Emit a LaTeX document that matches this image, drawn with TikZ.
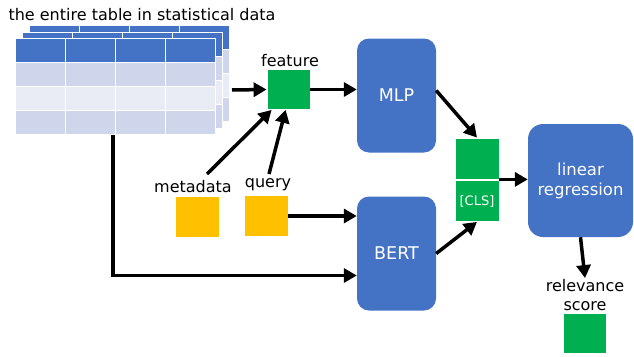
\documentclass[tikz,border=0pt]{standalone}
\usepackage{fontspec}
\setmainfont{DejaVu Sans}
\usetikzlibrary{arrows.meta}
\definecolor{boxblue}{HTML}{4472C4}
\definecolor{boxgreen}{HTML}{00B050}
\definecolor{boxorange}{HTML}{FFC000}
\definecolor{rowdark}{HTML}{CFD5EA}
\definecolor{rowlight}{HTML}{E9EBF5}

\begin{document}
\begin{tikzpicture}[x=1pt, y=-1pt,
    model/.style={fill=boxblue, rounded corners=12pt, text=white, align=center,
      inner sep=0pt, minimum width=79pt, minimum height=114pt,
      font=\fontsize{17.5}{21}\selectfont},
    vec/.style={fill=boxgreen, draw=white, line width=0.8pt, inner sep=0pt,
      minimum width=44pt, minimum height=41pt, text=white},
    meta/.style={fill=boxorange, inner sep=0pt, minimum width=43pt, minimum height=40pt},
    lbl/.style={inner sep=1pt, align=center, font=\fontsize{16}{19}\selectfont},
    link/.style={line width=3.5pt, -{Triangle[length=13pt,width=14pt]}}]
    \useasboundingbox (0,0) rectangle (634,356);

    \foreach \dx/\dy in {14/-13, 7/-6, 0/0} {
        \begin{scope}[shift={(\dx,\dy)}]
            \fill[boxblue] (15,38) rectangle (215,62);
            \fill[rowdark] (15,62) rectangle (215,86);
            \fill[rowlight] (15,86) rectangle (215,110);
            \fill[rowdark] (15,110) rectangle (215,134);
            \foreach \c in {65,115,165}
                \draw[white, line width=0.8pt] (\c,38) -- (\c,134);
            \foreach \r in {62,86,110}
                \draw[white, line width=0.8pt] (15,\r) -- (215,\r);
            \draw[white, line width=0.8pt] (15,38) rectangle (215,134);
        \end{scope}
    }

    \node[lbl] (title) at (142,15) {the entire table in statistical data};
    \coordinate (tabout) at (232,90);
    \coordinate (tabdown) at (113,135);

    \node[vec, minimum width=43pt, minimum height=40pt] (feat) at (288.5,89.5) {};
    \node[lbl] (featlbl) at (290,61) {feature};

    \node[meta] (metadata) at (197.5,217) {};
    \node[lbl] (metalbl) at (193,187) {metadata};
    \coordinate (metatip) at (207,174);
    \node[meta] (query) at (266.5,216) {};
    \node[lbl] (querylbl) at (268,185) {query};
    \coordinate (querytip) at (269,174);

    \node[model] (mlp) at (396.5,95.5) {MLP};
    \node[model] (bert) at (396.5,253.5) {BERT};

    \node[vec] (pool) at (477,158.5) {};
    \node[vec, font=\fontsize{13}{15}\selectfont] (cls) at (477,201) {[CLS]};

    \node[model, minimum width=105pt, minimum height=113pt, rounded corners=15pt,
      font=\fontsize{16.5}{20}\selectfont] (linreg) at (580.5,180.5) {linear\\regression};
    \node[lbl] (score) at (585,295) {relevance\\score};
    \node[vec, minimum width=43pt, minimum height=40pt] (out) at (584.5,333.5) {};

    \draw[link] (tabout) -- (feat.west);
    \draw[link] (metatip) -- ([xshift=5pt]feat.south west);
    \draw[link] (querytip) -- ([xshift=19pt]feat.south west);
    \draw[link] (feat.east) -- (feat.east -| mlp.west);
    \draw[link] (query.east) -- (query.east -| bert.west);
    \draw[link] (tabdown) |- ([yshift=-22pt]bert.west);
    \draw[link] ([yshift=5pt]mlp.east) -- (pool.north);
    \draw[link] (bert.east) -- (cls.south);
    \draw[link] (pool.south east) -- (pool.south east -| linreg.west);
    \draw[link] (linreg.south) -- (score.north);
\end{tikzpicture}
\end{document}
